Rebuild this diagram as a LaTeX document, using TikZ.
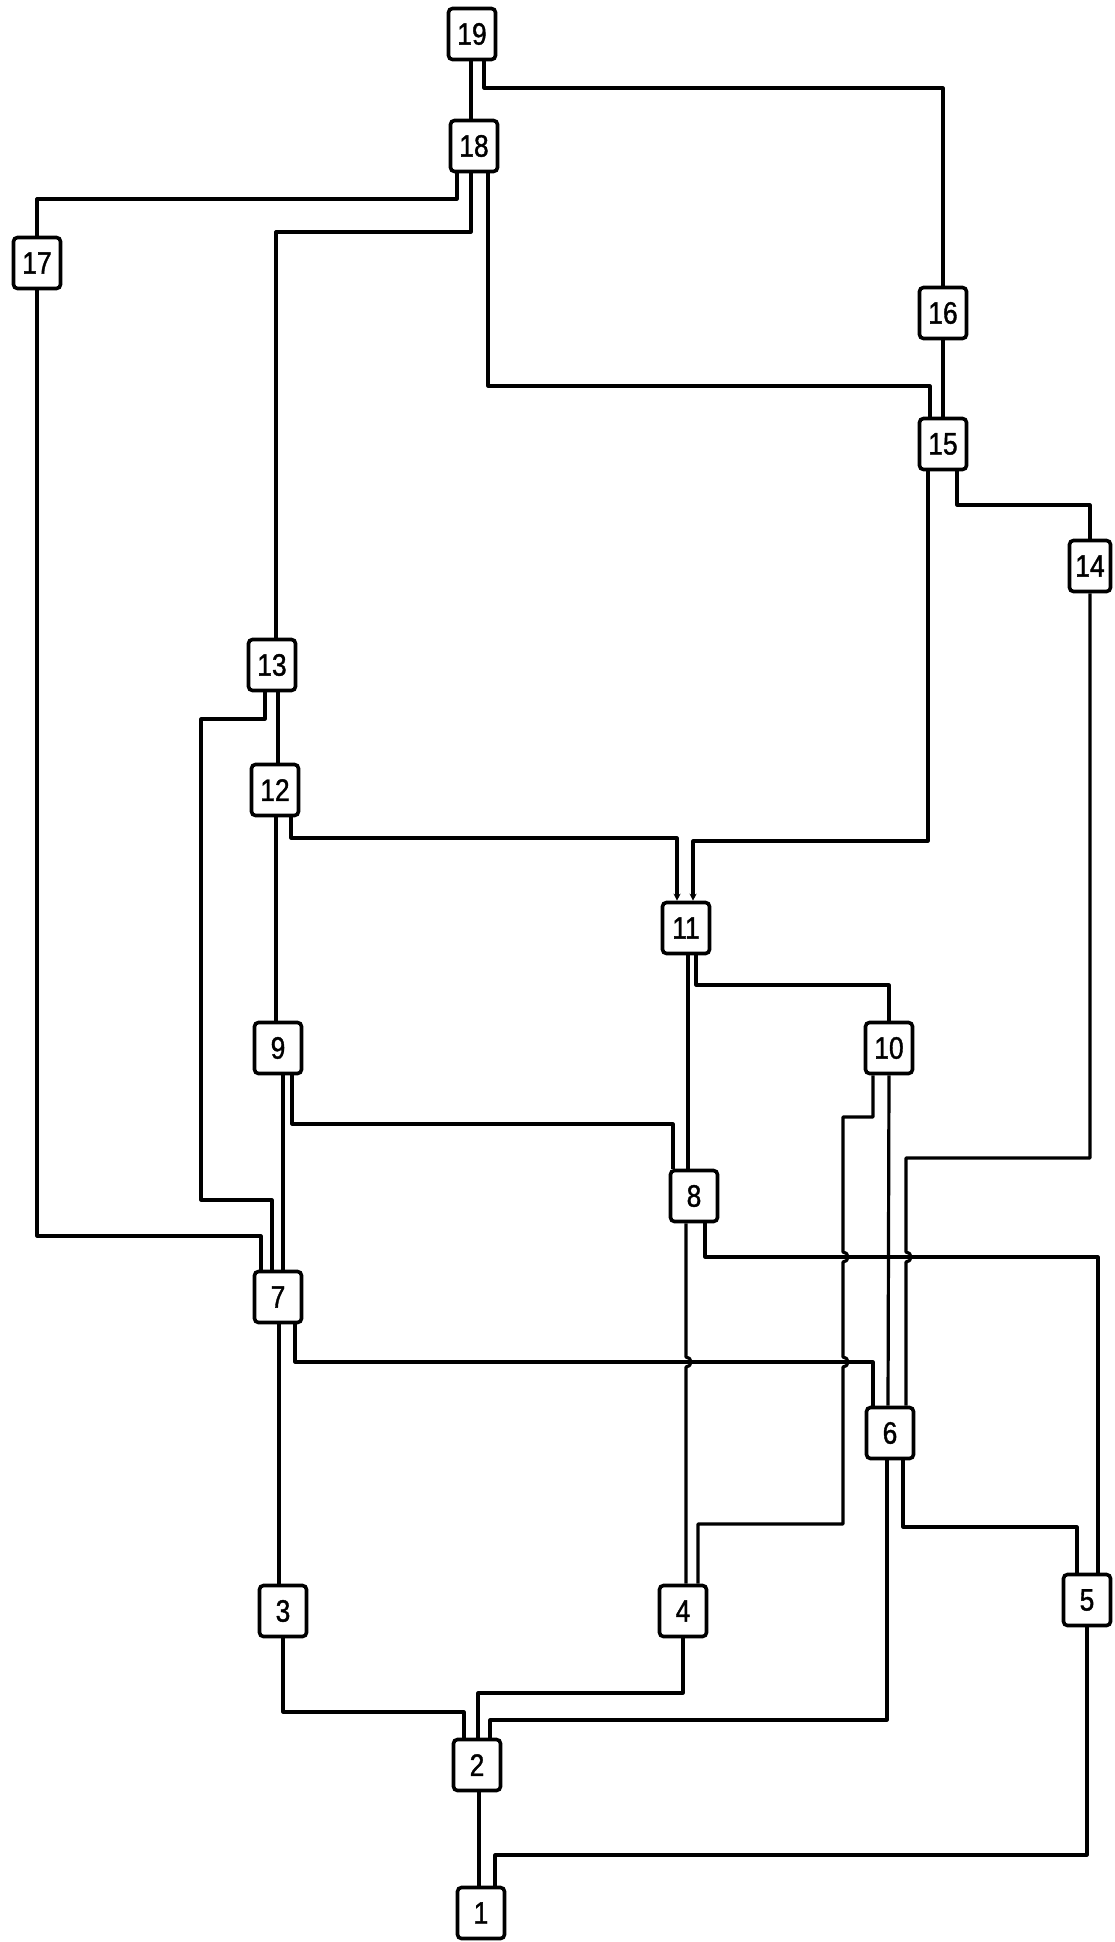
\documentclass[tikz,border=0pt]{standalone}
\usepackage{fontspec}
\newfontfamily\boxfont{Liberation Sans}[FakeStretch=0.85,FakeBold=1.2]
\usetikzlibrary{arrows.meta}
\begin{document}
\begin{tikzpicture}[x=1pt,y=-1pt,
  box/.style={draw, line width=3.6pt, rounded corners=4pt, minimum width=47pt,
    minimum height=51pt, inner sep=0pt, fill=white,
    font=\boxfont\fontsize{31}{31}\selectfont},
  wire/.style={line width=3.2pt, line join=round},
  tip/.style={-{Stealth[length=7pt,width=7pt]}}]
\fill[white] (0,0) rectangle (1114,1942);
\useasboundingbox (0,0) rectangle (1114,1942);

% nodes
\node[box] (n1)  at (481,1913) {1};
\node[box] (n2)  at (477,1765) {2};
\node[box] (n3)  at (283,1611) {3};
\node[box] (n4)  at (683,1611) {4};
\node[box] (n5)  at (1087,1600) {5};
\node[box] (n6)  at (890,1433) {6};
\node[box] (n7)  at (278,1297) {7};
\node[box] (n8)  at (694,1196) {8};
\node[box] (n9)  at (278,1048) {9};
\node[box] (n10) at (889,1048) {10};
\node[box] (n11) at (686,928) {11};
\node[box] (n12) at (275,790) {12};
\node[box] (n13) at (272,665) {13};
\node[box,minimum width=41pt] (n14) at (1090,566) {14};
\node[box] (n15) at (943,444) {15};
\node[box] (n16) at (943,313) {16};
\node[box] (n17) at (37,263) {17};
\node[box] (n18) at (474,146) {18};
\node[box] (n19) at (472,34) {19};

% connectors
\draw[wire] ([xshift=-1pt]n19.south) -- ([xshift=-3pt]n18.north);
\draw[wire] ([xshift=12pt]n19.south) -- (484,88) -| (n16.north);
\draw[wire] ([xshift=-17pt]n18.south) -- (457,199) -| (n17.north);
\draw[wire] ([xshift=-3pt]n18.south) -- (471,232) -| ([xshift=4pt]n13.north);
\draw[wire] ([xshift=14pt]n18.south) -- (488,386) -| ([xshift=-13pt]n15.north);
\draw[wire] (n16.south) -- (n15.north);
\draw[wire,tip] ([xshift=-15pt]n15.south) -- (928,841) -| ([xshift=7pt]n11.north);
\draw[wire] ([xshift=14pt]n15.south) -- (957,505) -| (n14.north);
\draw[wire] (n14.south) -- (1090,1158) -- (906,1158) -- (906,1252)
  arc[start angle=90,end angle=-90,radius=5pt] -- ([xshift=16pt]n6.north);
\draw[wire] ([xshift=6pt]n13.south) -- ([xshift=3pt]n12.north);
\draw[wire] ([xshift=-7pt]n13.south) -- (265,719) -- (201,719) -- (201,1200)
  -- (272,1200) -- ([xshift=-6pt]n7.north);
\draw[wire] ([xshift=1pt]n12.south) -- ([xshift=-2pt]n9.north);
\draw[wire,tip] ([xshift=16pt]n12.south) -- (291,838) -| ([xshift=-9pt]n11.north);
\draw[wire] ([xshift=2pt]n11.south) -- ([xshift=-6pt]n8.north);
\draw[wire] ([xshift=10pt]n11.south) -- (696,985) -| (n10.north);
\draw[wire] ([xshift=5pt]n9.south) -- ([xshift=5pt]n7.north);
\draw[wire] ([xshift=14pt]n9.south) -- (292,1124) -| ([xshift=-21pt]n8.north);
\draw[wire] (n17.south) -- (37,1236) -| ([xshift=-17pt]n7.north);
\draw[wire] ([xshift=-16pt]n10.south) -- (873,1117) -- (843,1117) -- (843,1252)
  arc[start angle=90,end angle=-90,radius=5pt] -- (843,1357)
  arc[start angle=90,end angle=-90,radius=5pt] -- (843,1524)
  -| ([xshift=15pt]n4.north);
\draw[wire] (n10.south) -- ([xshift=-2pt]n6.north);
\draw[wire] ([xshift=-8pt]n8.south) -- (686,1357)
  arc[start angle=90,end angle=-90,radius=5pt] -- ([xshift=3pt]n4.north);
\draw[wire] ([xshift=11pt]n8.south) -- (705,1257) -| ([xshift=11pt]n5.north);
\draw[wire] ([xshift=1pt]n7.south) -- ([xshift=-4pt]n3.north);
\draw[wire] ([xshift=17pt]n7.south) -- (295,1362) -| ([xshift=-17pt]n6.north);
\draw[wire] ([xshift=-3pt]n6.south) -- (887,1720) -| ([xshift=13pt]n2.north);
\draw[wire] ([xshift=13pt]n6.south) -- (903,1527) -| ([xshift=-10pt]n5.north);
\draw[wire] (n3.south) -- (283,1712) -| ([xshift=-13pt]n2.north);
\draw[wire] (n4.south) -- (683,1693) -| ([xshift=1pt]n2.north);
\draw[wire] ([xshift=2pt]n2.south) -- ([xshift=-2pt]n1.north);
\draw[wire] (n5.south) -- (1087,1855) -| ([xshift=14pt]n1.north);
\end{tikzpicture}
\end{document}
